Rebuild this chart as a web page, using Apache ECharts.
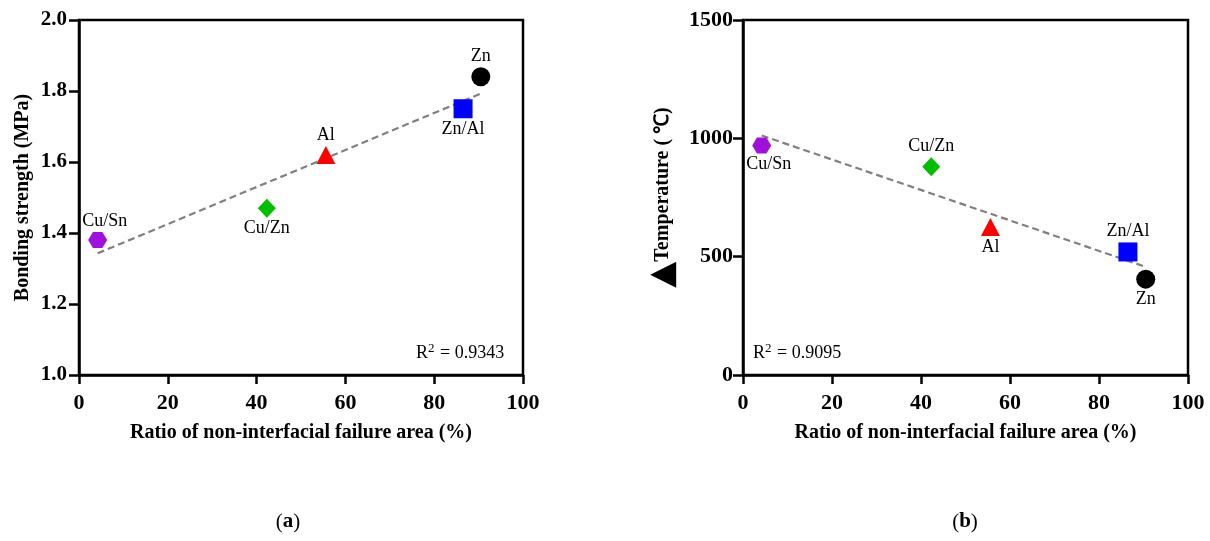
<!DOCTYPE html>
<html><head><meta charset="utf-8">
<script src="https://cdn.jsdelivr.net/npm/echarts@6/dist/echarts.min.js"></script>
<style>html,body{margin:0;padding:0;background:#fff}#c{width:1210px;height:541px}</style>
</head><body><div id="c"></div>
<script>
const materials = ['Cu/Sn', 'Cu/Zn', 'Al', 'Zn/Al', 'Zn'];
const failureRatio = [4.2, 42.3, 55.6, 86.5, 90.5];
const bondingStrength = [1.38, 1.47, 1.62, 1.75, 1.84];
const temperature = [970, 880, 625, 520, 405];
const r2Strength = '0.9343';
const r2Temp = '0.9095';
const xTitle = 'Ratio of non-interfacial failure area (%)';
const yTitleA = 'Bonding strength (MPa)';
const yTitleB = 'Temperature ( \u2103)';

const FONT = 'Liberation Serif';
const HEX = 'path://M0,866L500,0L1500,0L2000,866L1500,1732L500,1732Z';
const markerStyle = {
  'Cu/Sn': { symbol: HEX, size: [19, 16], color: '#A00FDC', posA: 'top', posB: 'bottom', off: [7, 0] },
  'Cu/Zn': { symbol: 'diamond', size: [18, 19], color: '#00BE00', posA: 'bottom', posB: 'top', off: [0, 0] },
  'Al':    { symbol: 'triangle', size: [19, 18], color: '#FF0000', posA: 'top', posB: 'bottom', off: [0, 0] },
  'Zn/Al': { symbol: 'rect', size: [19, 19], color: '#0000FF', posA: 'bottom', posB: 'top', off: [0, 0] },
  'Zn':    { symbol: 'circle', size: [19, 19], color: '#000000', posA: 'top', posB: 'bottom', off: [0, 0] }
};

function fit(xs, ys) {
  const n = xs.length;
  const mx = xs.reduce((a, b) => a + b, 0) / n;
  const my = ys.reduce((a, b) => a + b, 0) / n;
  let sxy = 0, sxx = 0;
  for (let i = 0; i < n; i++) { sxy += (xs[i] - mx) * (ys[i] - my); sxx += (xs[i] - mx) ** 2; }
  const b = sxy / sxx, a = my - b * mx;
  const x0 = Math.min(...xs), x1 = Math.max(...xs);
  return [[x0, a + b * x0], [x1, a + b * x1]];
}

const chart = echarts.init(document.getElementById('c'), null, { renderer: 'canvas' });

const tickLine = { color: '#000', width: 2.5 };
function axisCommon(extra) {
  return Object.assign({
    type: 'value',
    splitLine: { show: false },
    axisLine: { show: true, onZero: false, lineStyle: { color: '#000', width: 2.5 } },
    nameLocation: 'middle',
    nameTextStyle: { color: '#000', fontFamily: FONT, fontWeight: 'bold', fontSize: 20 }
  }, extra);
}
function lbl(size, margin, fmt) {
  return { color: '#000', fontFamily: FONT, fontWeight: 'bold', fontSize: size, margin: margin, formatter: fmt };
}

const series = [];
const ys = [bondingStrength, temperature];
[0, 1].forEach(g => {
  series.push({
    type: 'line', xAxisIndex: g, yAxisIndex: g, z: 1,
    data: fit(failureRatio, ys[g]), showSymbol: false, silent: true,
    lineStyle: { color: '#808080', width: 2.2, type: [7, 4] }
  });
  materials.forEach((m, i) => {
    const s = markerStyle[m];
    series.push({
      type: 'scatter', xAxisIndex: g, yAxisIndex: g, z: 3, name: m,
      symbol: s.symbol, symbolSize: s.size,
      itemStyle: { color: s.color, opacity: 1 },
      label: {
        show: true, formatter: m, position: g === 0 ? s.posA : s.posB, distance: 2,
        offset: s.off, color: '#000', fontFamily: FONT, fontSize: 18
      },
      data: [[failureRatio[i], ys[g][i]]]
    });
  });
});

const xTick = { show: true, length: 9, lineStyle: tickLine };
const yTick = { show: true, length: 10, lineStyle: tickLine };

chart.setOption({
  backgroundColor: '#fff',
  animation: false,
  grid: [
    { left: 79, top: 20, width: 444, height: 355, show: true, borderColor: '#000', borderWidth: 2.5 },
    { left: 743, top: 20, width: 445, height: 355, show: true, borderColor: '#000', borderWidth: 2.5 }
  ],
  xAxis: [
    axisCommon({ gridIndex: 0, min: 0, max: 100, interval: 20, name: xTitle, nameGap: 48,
      axisTick: xTick, axisLabel: lbl(22, 17, v => String(v)) }),
    axisCommon({ gridIndex: 1, min: 0, max: 100, interval: 20, name: xTitle, nameGap: 48,
      axisTick: xTick, axisLabel: lbl(22, 17, v => String(v)) })
  ],
  yAxis: [
    axisCommon({ gridIndex: 0, min: 1.0, max: 2.0, interval: 0.2, name: yTitleA, nameGap: 46, nameRotate: 90,
      axisTick: yTick, axisLabel: lbl(21, 12, v => v.toFixed(1)) }),
    axisCommon({ gridIndex: 1, min: 0, max: 1500, interval: 500, name: '{t|\u25B2}{n|' + yTitleB + '}', nameGap: 63, nameRotate: 90,
      nameTextStyle: { color: '#000', fontFamily: FONT, fontWeight: 'bold', fontSize: 20,
        rich: { t: { fontSize: 34, fontFamily: 'DejaVu Sans', color: '#000' }, n: { fontSize: 20, fontFamily: FONT, fontWeight: 'bold', color: '#000' } } },
      axisTick: yTick, axisLabel: lbl(22, 10, v => String(v)) })
  ],
  graphic: [
    { type: 'text', left: 416, top: 342, z: 10, style: {
      text: '{r|R}{s|2}{r| = ' + r2Strength + '}', fill: '#000',
      rich: { r: { fontFamily: FONT, fontSize: 18, lineHeight: 20, verticalAlign: 'bottom' }, s: { fontFamily: FONT, fontSize: 13, lineHeight: 20, verticalAlign: 'top', padding: [0, 1, 8, 0] } } } },
    { type: 'text', left: 753, top: 342, z: 10, style: {
      text: '{r|R}{s|2}{r| = ' + r2Temp + '}', fill: '#000',
      rich: { r: { fontFamily: FONT, fontSize: 18, lineHeight: 20, verticalAlign: 'bottom' }, s: { fontFamily: FONT, fontSize: 13, lineHeight: 20, verticalAlign: 'top', padding: [0, 1, 8, 0] } } } },
    { type: 'text', x: 288, y: 522, z: 10, style: {
      text: '{p|(}{b|a}{p|)}', align: 'center', verticalAlign: 'middle',
      rich: { p: { fontFamily: FONT, fontSize: 21, fill: '#000' }, b: { fontFamily: FONT, fontSize: 21, fontWeight: 'bold', fill: '#000' } } } },
    { type: 'text', x: 965, y: 522, z: 10, style: {
      text: '{p|(}{b|b}{p|)}', align: 'center', verticalAlign: 'middle',
      rich: { p: { fontFamily: FONT, fontSize: 21, fill: '#000' }, b: { fontFamily: FONT, fontSize: 21, fontWeight: 'bold', fill: '#000' } } } }
  ],
  series: series
});
</script></body></html>
